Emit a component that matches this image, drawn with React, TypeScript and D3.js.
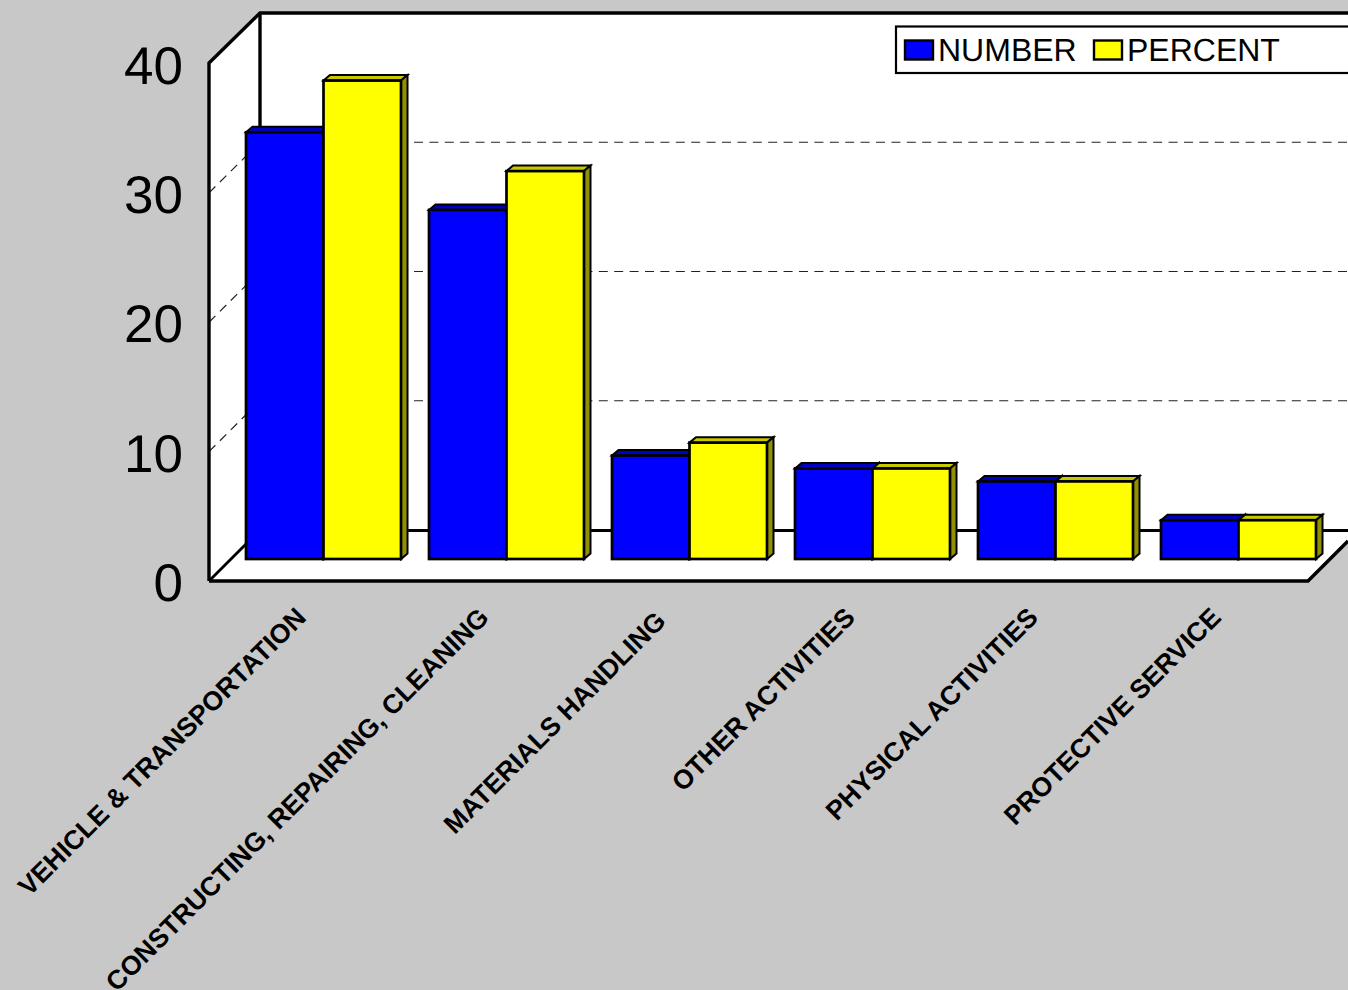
import React from "react";
import * as d3 from "d3";

const categories = [
  "VEHICLE & TRANSPORTATION",
  "CONSTRUCTING, REPAIRING, CLEANING",
  "MATERIALS HANDLING",
  "OTHER ACTIVITIES",
  "PHYSICAL ACTIVITIES",
  "PROTECTIVE SERVICE",
];
const numberValues = [33, 27, 8, 7, 6, 3];
const percentValues = [37, 30, 9, 7, 6, 3];
const seriesNames = ["NUMBER", "PERCENT"];
const yTicks = [0, 10, 20, 30, 40];

const W = 1348, H = 990;
const FONT = "'Liberation Sans', Arial, sans-serif";
const yFront = d3.scaleLinear().domain([0, 40]).range([581, 63.5]);
const yBack = d3.scaleLinear().domain([0, 40]).range([530, 13]);
const yBar = d3.scaleLinear().domain([0, 40]).range([559, 41.8]);
const xCat = d3.scaleBand<string>().domain(categories).range([232, 1330]).paddingInner(28 / 183).paddingOuter(14 / 183);
const xSer = d3.scaleBand<string>().domain(seriesNames).range([0, xCat.bandwidth()]);

const seriesStyle = [
  { front: "#0000ff", top: "#0000c0", side: "#000090", values: numberValues },
  { front: "#ffff00", top: "#c8c800", side: "#909000", values: percentValues },
];
const DX = 6.5, DY = 5.5;
const poly = (pts: number[][]) => pts.map((p) => p.join(",")).join(" ");

export default function App() {
  return (
    <svg width={W} height={H} style={{ position: "absolute", left: 0, top: 0, background: "#c8c8c8", fontFamily: FONT, textRendering: "geometricPrecision" }}>
      <polygon points={poly([[209, 63], [260, 13], [1348, 13], [1348, 541], [1308, 581], [209, 581]])} fill="#fff" />
      {yTicks.filter((t) => t > 0 && t < 40).map((t) => (
        <g key={t}>
          <line x1={260} x2={1348} y1={yBack(t)} y2={yBack(t)} stroke="#222" strokeWidth={1.2} strokeDasharray="9 6.4" />
          <line x1={209} x2={260} y1={yFront(t)} y2={yBack(t)} stroke="#222" strokeWidth={1.2} strokeDasharray="9 6.4" />
        </g>
      ))}
      <g fill="none" stroke="#000">
        <path d="M209,581 L209,63 L260,13 L1348,13" strokeWidth={3.4} />
        <line x1={260} x2={260} y1={13} y2={530} strokeWidth={3.4} />
        <line x1={260} x2={1348} y1={530.5} y2={530.5} strokeWidth={3} />
        <line x1={209} x2={260} y1={581} y2={530} strokeWidth={2.8} />
        <path d="M209,581 L1308,581 L1348,541" strokeWidth={3.4} />
      </g>
      {categories.map((c, i) =>
        seriesStyle.map((s, j) => {
          const x0 = xCat(c)! + xSer(seriesNames[j])!;
          const x1 = x0 + xSer.bandwidth();
          const y1 = yBar(s.values[i]);
          const y0 = yBar(0);
          return (
            <g key={c + j} stroke="#000" strokeLinejoin="miter">
              <polygon points={poly([[x0, y1], [x0 + DX, y1 - DY], [x1 + DX, y1 - DY], [x1, y1]])} fill={s.top} strokeWidth={2} />
              <polygon points={poly([[x1, y1], [x1 + DX, y1 - DY], [x1 + DX, y0 - DY], [x1, y0]])} fill={s.side} strokeWidth={2} />
              <rect x={x0} y={y1} width={x1 - x0} height={y0 - y1} fill={s.front} strokeWidth={2.7} />
            </g>
          );
        })
      )}
      {yTicks.map((t) => (
        <text key={t} x={183} y={yFront(t) + 20} textAnchor="end" fontSize={53} fill="#000">{t}</text>
      ))}
      {categories.map((c, i) => {
        const nudge = i === 2 ? 6 : 0;
        const x = xCat(c)! + xCat.bandwidth() / 2 - 16 - nudge;
        return (
          <text key={c} transform={`translate(${x},${619 + nudge * 0.6}) rotate(-45)`} textAnchor="end" fontSize={26.6} fontWeight="bold" fill="#000">{c}</text>
        );
      })}
      <rect x={896} y={26.5} width={470} height={46.5} fill="#fff" stroke="#000" strokeWidth={2.2} />
      <rect x={905} y={40.5} width={28} height={19} fill={seriesStyle[0].front} stroke="#000" strokeWidth={2.4} />
      <text x={938} y={61} fontSize={32} fill="#000">{seriesNames[0]}</text>
      <rect x={1094} y={40.5} width={28} height={19} fill={seriesStyle[1].front} stroke="#000" strokeWidth={2.4} />
      <text x={1127} y={61} fontSize={32} fill="#000">{seriesNames[1]}</text>
    </svg>
  );
}
